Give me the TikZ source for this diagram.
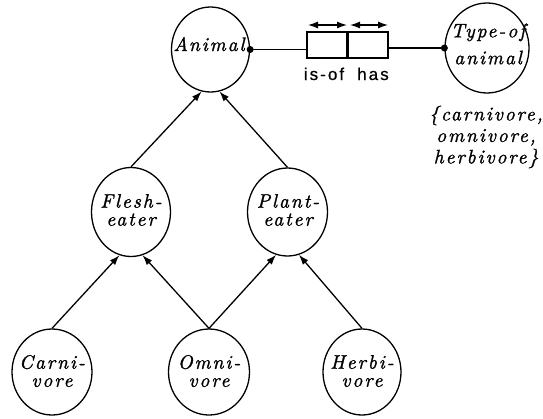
\documentclass[tikz,border=0pt]{standalone}
\usepackage{fontspec}
\usetikzlibrary{arrows.meta,shapes.geometric}
\newfontfamily\ntfont[LetterSpace=10,FakeBold=1.3]{lmroman10-italic.otf}
\newfontfamily\lbfont[LetterSpace=12,FakeBold=0.6]{Liberation Sans}
\tikzset{
  ell/.style={ellipse,draw,line width=1.3pt,inner sep=0pt,minimum width=80pt,minimum height=87pt},
  txt/.style={align=center,inner sep=0pt,font=\ntfont\fontsize{19.5}{18}\selectfont},
  sfl/.style={inner sep=0pt,anchor=base,font=\lbfont\fontsize{17}{17}\selectfont},
  boxn/.style={rectangle,draw,line width=1.3pt,minimum width=40pt,minimum height=26pt,inner sep=0pt},
  arr/.style={line width=1.3pt,-{Latex[length=10pt,width=7pt]}},
  darr/.style={line width=1.3pt,{Latex[length=10pt,width=7pt]}-{Latex[length=10pt,width=7pt]}},
  dotm/.style={circle,fill,inner sep=0pt,minimum size=7pt}
}
\begin{document}
\begin{tikzpicture}[x=1pt,y=-1pt]
\useasboundingbox (0,0) rectangle (543,418);
% ellipses
\node[ell,minimum width=78pt,minimum height=85pt] (animal) at (210.5,49.5) {};
\node[ell,minimum width=84pt,minimum height=90pt] (type) at (487,48) {};
\node[ell,minimum width=79pt,minimum height=89pt] (flesh) at (131,212) {};
\node[ell,minimum width=80pt,minimum height=88pt] (plant) at (287.5,212) {};
\node[ell,minimum height=86pt] (carni) at (52,372) {};
\node[ell,minimum width=81pt,minimum height=86pt] (omni) at (209,372) {};
\node[ell,minimum width=78pt,minimum height=86pt] (herbi) at (362,372) {};
% texts
\node[txt,anchor=base] (animalT) at (209,51) {Animal};
\node[txt,font=\ntfont\fontsize{19.5}{27}\selectfont] (typeT) at (488,44) {Type-of\\animal};
\node[txt] (fleshT) at (131,210) {Flesh-\\eater};
\node[txt] (plantT) at (288,210) {Plant-\\eater};
\node[txt] (carniT) at (52,371) {Carni-\\vore};
\node[txt] (omniT) at (209,371) {Omni-\\vore};
\node[txt] (herbiT) at (362,371) {Herbi-\\vore};
\node[txt,font=\ntfont\fontsize{19.5}{21.5}\selectfont] (setT) at (486,137) {\{carnivore,\\omnivore,\\herbivore\}};
% boxes
\node[boxn] (box1) at (327,45) {};
\node[boxn] (box2) at (368,45) {};
\node[sfl] (isof) at (324,80) {is-of};
\node[sfl] (has) at (373,80) {has};
% double arrows
\coordinate (l1) at (308,25);
\coordinate (l2) at (347,25);
\coordinate (r1) at (350,25);
\coordinate (r2) at (388,25);
\draw[darr] (l1) -- (l2);
\draw[darr] (r1) -- (r2);
% horizontal links
\draw[line width=1.3pt] (animal.east) -- (animal.east -| box1.west);
\draw[line width=1.3pt] (box2.east |- type.west) -- (type.west);
\node[dotm] (dotA) at (animal.east) {};
\node[dotm] (dotT) at (type.west) {};
% hierarchy arrows
\draw[arr] (carni.north) -- (flesh.-105);
\draw[arr] (omni.north) -- (flesh.-75);
\draw[arr] (omni.north) -- (plant.-105);
\draw[arr] (herbi.north) -- (plant.-75);
\draw[arr] (flesh.north) -- (animal.-102);
\draw[arr] (plant.north) -- (animal.-78);
\end{tikzpicture}
\end{document}
